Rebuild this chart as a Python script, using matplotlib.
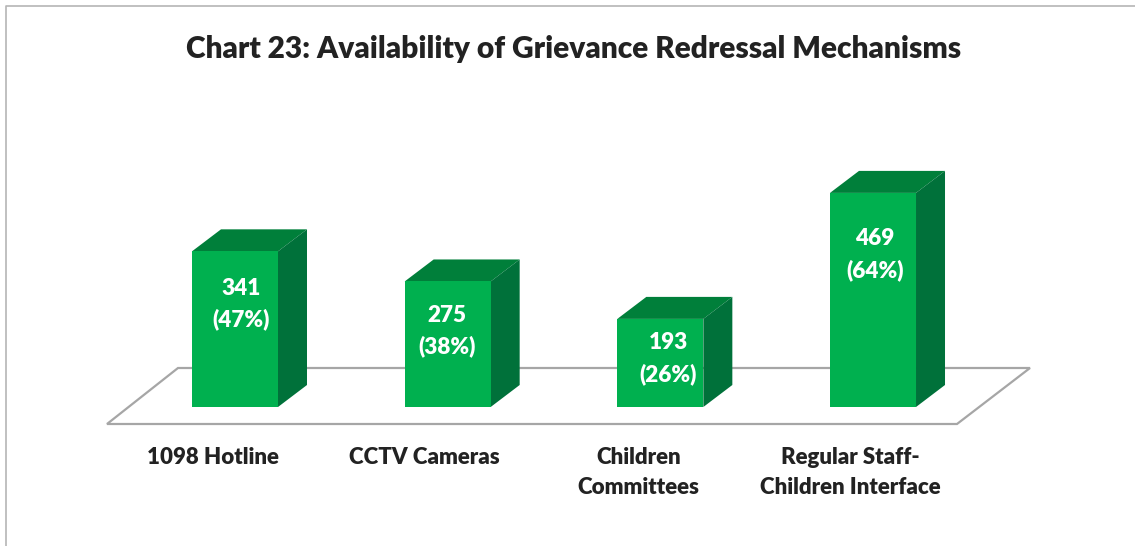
import matplotlib
matplotlib.use('Agg')
import matplotlib.pyplot as plt

# datos
categorias = ['1098 Hotline', 'CCTV Cameras', 'Children\nCommittees', 'Regular Staff-\nChildren Interface']
valores = [341, 275, 193, 469]
porcentajes = [47, 38, 26, 64]

W, H = 1135, 546
PX_X = 212.67   # pixeles por categoria
PX_Y = 0.4565   # pixeles por unidad
X0, Y0 = 235, 407
ANCHO = 86 / PX_X
DX, DY = 29 / PX_X, 22 / PX_Y

VERDE = '#00b04f'
VERDE_TOP = '#007f3a'
VERDE_LADO = '#00713a'
GRIS = '#a6a6a6'
TEXTO = '#222222'
PESO = 'heavy'

plt.rcParams['font.family'] = ['Lato', 'DejaVu Sans']

fig = plt.figure(figsize=(W / 100, H / 100), dpi=100)
ax = fig.add_axes([0, 0, 1, 1])
ax.set_xlim(-X0 / PX_X, (W - X0) / PX_X)
ax.set_ylim(-(H - Y0) / PX_Y, Y0 / PX_Y)
ax.axis('off')


def px(x, y):
    # pixeles de la imagen a datos
    return (x - X0) / PX_X, (Y0 - y) / PX_Y


# borde de la pagina
ax.plot(*zip(px(5.5, 546), px(5.5, 6.5), px(1135, 6.5)), color='#b5b5b5', lw=1.2, zorder=1)

# suelo
piso = [px(107, 424), px(178, 368), px(1030, 368), px(957, 424)]
ax.fill(*zip(*piso), facecolor='white', edgecolor=GRIS, lw=1.6, zorder=1)

# barras
for i, v in enumerate(valores):
    iz, de = i - ANCHO / 2, i + ANCHO / 2
    ax.fill([iz, iz + DX, de + DX, de], [v, v + DY, v + DY, v], color=VERDE_TOP, lw=0, zorder=2)
    ax.fill([de, de + DX, de + DX, de], [0, DY, v + DY, v], color=VERDE_LADO, lw=0, zorder=2)
ax.bar(range(len(valores)), valores, width=ANCHO, color=VERDE, zorder=3)

# etiquetas dentro de las barras
ajuste_x = [6, -1, 8, 2]
ajuste_y = [37, 34, 24, 46]
for i, (v, p) in enumerate(zip(valores, porcentajes)):
    x = i + ajuste_x[i] / PX_X
    y = v - ajuste_y[i] / PX_Y
    ax.text(x, y, str(v), color='white', fontsize=16.2, fontweight=PESO, ha='center', va='center', zorder=4)
    ax.text(x, y - 31 / PX_Y, f'({p}%)', color='white', fontsize=16.2, fontweight=PESO, ha='center', va='center', zorder=4)

# etiquetas de categoria
ajuste_cat = [-22, -23, -22, -23]
for i, c in enumerate(categorias):
    for j, linea in enumerate(c.split('\n')):
        x, y = px(X0 + i * PX_X + ajuste_cat[i], 458 + j * 30)
        ax.text(x, y, linea, color=TEXTO, fontsize=16, fontweight=PESO, ha='center', va='center')

# titulo
x, y = px(574, 49)
ax.text(x, y, 'Chart 23: Availability of Grievance Redressal Mechanisms', color=TEXTO,
        fontsize=21.5, fontweight=PESO, ha='center', va='center')

fig.savefig('out.png', dpi=100)
plt.close(fig)
